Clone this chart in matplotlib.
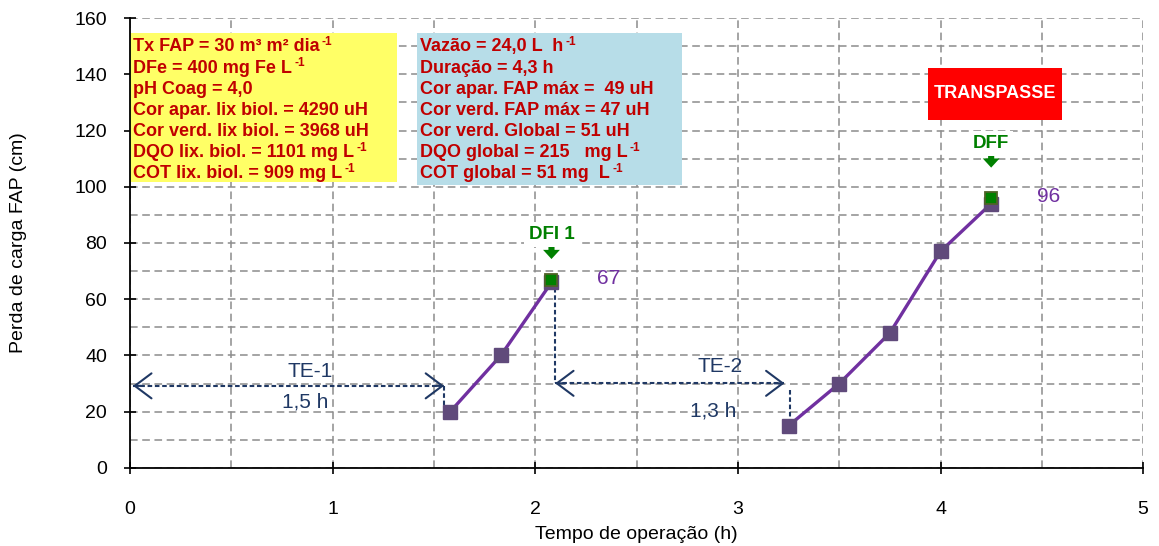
import matplotlib.pyplot as plt
from matplotlib.patches import Rectangle
from matplotlib.ticker import MultipleLocator

plt.rcParams['font.family'] = ['Liberation Sans', 'DejaVu Sans']

# perda de carga ao longo das duas carreiras
tempo = [1.58, 1.83, 2.08, 3.25, 3.5, 3.75, 4.0, 4.25]
perda = [20, 40, 66, 15, 30, 48, 77, 94]
# pontos de descarga (DFI 1 e DFF)
t_desc = [2.08, 4.25]
p_desc = [67, 96]
rot_desc = ['DFI 1', 'DFF']

# condições operacionais: (texto, expoente)
info_esq = [('Tx FAP = 30 m³ m² dia', '-1'),
            ('DFe = 400 mg Fe L', '-1'),
            ('pH Coag = 4,0', None),
            ('Cor apar. lix biol. = 4290 uH', None),
            ('Cor verd. lix biol. = 3968 uH', None),
            ('DQO lix. biol. = 1101 mg L', '-1'),
            ('COT lix. biol. = 909 mg L', '-1')]
info_dir = [('Vazão = 24,0 L  h', '-1'),
            ('Duração = 4,3 h', None),
            ('Cor apar. FAP máx =  49 uH', None),
            ('Cor verd. FAP máx = 47 uH', None),
            ('Cor verd. Global = 51 uH', None),
            ('DQO global = 215   mg L', '-1'),
            ('COT global = 51 mg  L', '-1')]

PURPLE = '#7030A0'
MARK = '#604A7B'
RED = '#C00000'
NAVY = '#1F3864'
GREEN = '#008000'

fig = plt.figure(figsize=(11.59, 5.46), dpi=100)
ax = fig.add_axes([0.1122, 0.1429, 0.8741, 0.8241])

ax.set_xlim(0, 5)
ax.set_ylim(0, 160)
ax.xaxis.set_major_locator(MultipleLocator(1))
ax.xaxis.set_minor_locator(MultipleLocator(0.5))
ax.yaxis.set_major_locator(MultipleLocator(20))
ax.yaxis.set_minor_locator(MultipleLocator(10))
ax.grid(which='both', color='#8C8C8C', linestyle=(0, (5, 3)), linewidth=1.1)
ax.set_axisbelow(True)
ax.tick_params(which='minor', length=0)
ax.tick_params(which='major', direction='inout', length=9, width=1.2,
               labelsize=14, colors='black')
ax.tick_params(axis='x', pad=19)
ax.tick_params(axis='y', pad=12)
for s in ['top', 'right']:
    ax.spines[s].set_visible(False)
for s in ['left', 'bottom']:
    ax.spines[s].set_linewidth(1.3)

ax.set_xlabel('Tempo de operação (h)', fontsize=14)
ax.set_ylabel('Perda de carga FAP (cm)', fontsize=14)
ax.xaxis.set_label_coords(0.5, -0.128)
ax.yaxis.set_label_coords(-0.102, 0.5)

# duas carreiras de filtração
ax.plot(tempo[:3], perda[:3], color=PURPLE, lw=2.4, marker='s', ms=10,
        mfc=MARK, mec=MARK, zorder=3)
ax.plot(tempo[3:], perda[3:], color=PURPLE, lw=2.4, marker='s', ms=10,
        mfc=MARK, mec=MARK, zorder=3)
ax.plot(t_desc, p_desc, ls='none', marker='s', ms=9, mfc=GREEN, mec='#4F6228',
        mew=1.3, zorder=4)

desl_txt = [16, 19.5]
desl_seta = [(13.3, 7.3), (16.8, 10.8)]
for t, p, r, dt, (s0, s1) in zip(t_desc, p_desc, rot_desc, desl_txt, desl_seta):
    ax.text(t + 0.225, p + 0.5, str(p), color=PURPLE, fontsize=15, va='center', ha='left')
    ax.annotate('', xy=(t, p + s1), xytext=(t, p + s0),
                arrowprops=dict(arrowstyle='simple,head_width=1.1,head_length=0.6,tail_width=0.4',
                                color=GREEN, lw=0, shrinkA=0, shrinkB=0,
                                mutation_scale=11))
    ax.text(t, p + dt, r, color=GREEN, fontsize=13.5, fontweight='bold', ha='center',
            va='center', bbox=dict(fc='white', ec='none', pad=3))

# tempos de espera entre carreiras: linha tracejada e pontas cheias
traco = dict(color=NAVY, lw=1.5, ls=(0, (2.2, 1.3)))
ponta = dict(arrowstyle='->,head_length=0.6,head_width=0.45', color=NAVY, lw=1.5,
             mutation_scale=20, shrinkA=0, shrinkB=0)


def seta_dupla(x0, x1, y):
    ax.plot([x0, x1], [y, y], **traco)
    ax.annotate('', xy=(x0, y), xytext=(x0 + 0.05, y), arrowprops=ponta)
    ax.annotate('', xy=(x1, y), xytext=(x1 - 0.05, y), arrowprops=ponta)


seta_dupla(0.015, 1.55, 29.2)
ax.plot([1.55, 1.55], [29.2, 21.5], **traco)
ax.text(0.888, 34.2, 'TE-1', color=NAVY, fontsize=15, ha='center', va='center')
ax.text(0.864, 23.6, '1,5 h', color=NAVY, fontsize=15, ha='center', va='center')

ax.plot([2.098, 2.098], [64, 30.1], **traco)
seta_dupla(2.098, 3.23, 30.1)
ax.plot([3.258, 3.258], [27.7, 16], **traco)
ax.text(2.91, 36.2, 'TE-2', color=NAVY, fontsize=15, ha='center', va='center')
ax.text(2.88, 20.2, '1,3 h', color=NAVY, fontsize=15, ha='center', va='center')


def quadro(x0, y0, w, h, cor, linhas, xt):
    ax.add_patch(Rectangle((x0, y0), w, h, fc=cor, ec='none', zorder=1))
    for i, (s, sup) in enumerate(linhas):
        t = ax.text(xt, 149.7 - i * 7.5, s, color=RED, fontsize=13, fontweight='bold',
                    ha='left', va='center', zorder=2)
        if sup:
            ax.annotate(sup, xy=(1, 0.78), xycoords=t, xytext=(1.5, 0),
                        textcoords='offset points', color=RED, fontsize=8.5,
                        fontweight='bold', ha='left', va='center', zorder=2)


# quadros de condições operacionais
quadro(0, 101.7, 1.32, 53, '#FFFF66', info_esq, 0.015)
quadro(1.417, 100.6, 1.308, 54.1, '#B7DDE8', info_dir, 1.432)

ax.add_patch(Rectangle((3.94, 123.7), 0.66, 18.5, fc='#FF0000', ec='none', zorder=1))
ax.text(4.27, 133, 'TRANSPASSE', color='white', fontsize=13, fontweight='bold',
        ha='center', va='center', zorder=2)

fig.savefig('out.png', dpi=100)
